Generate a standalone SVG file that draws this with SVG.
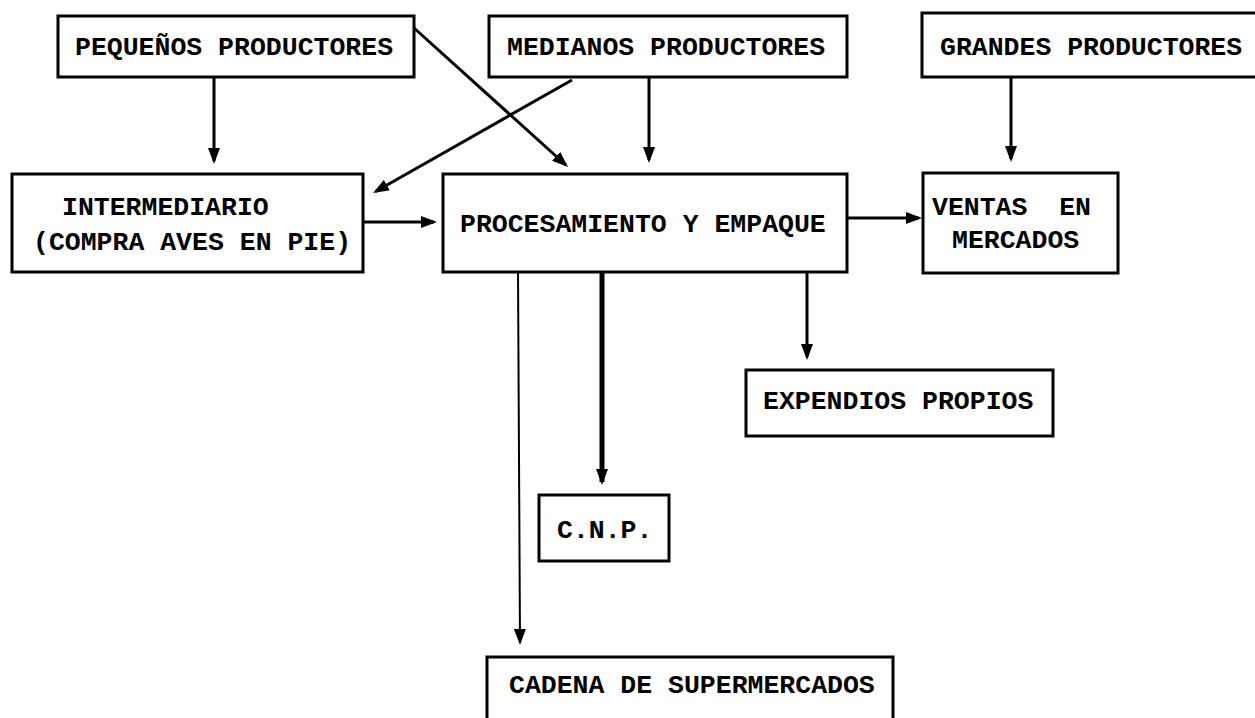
<svg xmlns="http://www.w3.org/2000/svg" width="1255" height="718" viewBox="0 0 1255 718">
<style>
.box{fill:#fff;stroke:#000;stroke-width:3}
.t{font-family:"Liberation Mono","Courier New",monospace;font-weight:bold;font-size:26.5px;fill:#000}
.c{fill:none;stroke:#000;stroke-width:3;marker-end:url(#ah)}
</style>
<defs>
<marker id="ah" markerUnits="userSpaceOnUse" viewBox="0 0 16 12" markerWidth="16" markerHeight="12" refX="13" refY="6" orient="auto">
<path d="M0,0 L16,6 L0,12 z" fill="#000"/>
</marker>
</defs>
<rect width="1255" height="718" fill="#fff"/>
<g id="connectors">
<line class="c" x1="214" y1="77" x2="214" y2="161"/>
<line class="c" x1="649" y1="77" x2="649" y2="160"/>
<line class="c" x1="1011" y1="77" x2="1011" y2="159"/>
<line class="c" x1="414" y1="28" x2="565.8" y2="165"/>
<line class="c" x1="572" y1="80" x2="375.6" y2="191.5"/>
<line class="c" x1="363" y1="222" x2="434" y2="222"/>
<line class="c" x1="847" y1="218" x2="919" y2="218"/>
<line class="c" x1="807" y1="272" x2="807" y2="357"/>
<line class="c" x1="602" y1="272" x2="602" y2="482" style="stroke-width:5"/>
<line class="c" x1="518" y1="272" x2="520" y2="642" style="stroke-width:2"/>
</g>
<g id="pequenos">
<rect class="box" x="58" y="16" width="356" height="61"/>
<text class="t" x="75" y="55">PEQUEÑOS PRODUCTORES</text>
</g>
<g id="medianos">
<rect class="box" x="489" y="16" width="358" height="61"/>
<text class="t" x="507" y="55">MEDIANOS PRODUCTORES</text>
</g>
<g id="grandes">
<rect class="box" x="922" y="13" width="345" height="64"/>
<text class="t" x="940" y="55">GRANDES PRODUCTORES</text>
</g>
<g id="intermediario">
<rect class="box" x="12" y="174" width="351" height="98"/>
<text class="t" x="62" y="215">INTERMEDIARIO</text>
<text class="t" x="33" y="250">(COMPRA AVES EN PIE)</text>
</g>
<g id="procesamiento">
<rect class="box" x="443" y="174" width="404" height="98"/>
<text class="t" x="460" y="232">PROCESAMIENTO Y EMPAQUE</text>
</g>
<g id="ventas">
<rect class="box" x="923" y="173" width="195" height="100"/>
<text class="t" x="932" y="215" xml:space="preserve">VENTAS  EN</text>
<text class="t" x="952" y="248">MERCADOS</text>
</g>
<g id="expendios">
<rect class="box" x="746" y="370" width="307" height="66"/>
<text class="t" x="763" y="409">EXPENDIOS PROPIOS</text>
</g>
<g id="cnp">
<rect class="box" x="539" y="495" width="130" height="66"/>
<text class="t" x="557" y="538">C.N.P.</text>
</g>
<g id="cadena">
<rect class="box" x="487" y="657" width="406" height="80"/>
<text class="t" x="509" y="693">CADENA DE SUPERMERCADOS</text>
</g>
</svg>
